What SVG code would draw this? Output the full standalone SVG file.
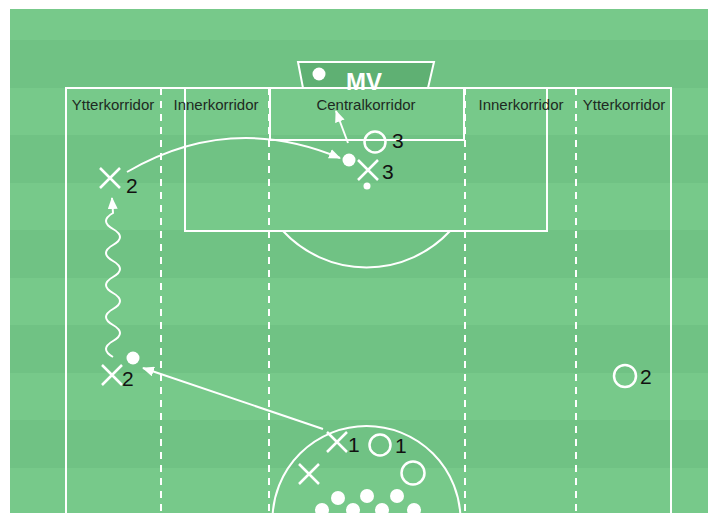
<svg xmlns="http://www.w3.org/2000/svg" width="718" height="513" viewBox="0 0 718 513">
<defs>
<style>
.ln{fill:none;stroke:#fff;stroke-width:2}
.dash{fill:none;stroke:#fff;stroke-width:2;stroke-dasharray:7 6}
.lbl{font-family:"Liberation Sans",Arial,sans-serif;font-size:15px;fill:#1e2a22;text-anchor:middle}
.num{font-family:"Liberation Sans",Arial,sans-serif;font-size:21px;fill:#111}
.x{fill:none;stroke:#fff;stroke-width:2.5}
.o{fill:none;stroke:#fff;stroke-width:2.5}
.ball{fill:#fff}
.arr{fill:none;stroke:#fff;stroke-width:2;marker-end:url(#ah)}
</style>
<marker id="ah" markerUnits="userSpaceOnUse" markerWidth="12" markerHeight="10" refX="11" refY="5" orient="auto">
<path d="M0,0 L12,5 L0,10 z" fill="#fff"/>
</marker>
</defs>
<rect width="718" height="513" fill="#fff"/>
<g id="field">
<rect x="10" y="9" width="698" height="504" fill="#77c98a"/>
<g fill="#70c284">
<rect x="10" y="40" width="698" height="48"/>
<rect x="10" y="135" width="698" height="48"/>
<rect x="10" y="230" width="698" height="48"/>
<rect x="10" y="325" width="698" height="48"/>
<rect x="10" y="420" width="698" height="48"/>
</g>
<polygon points="298,62 434,62 428,88 303,88" fill="#5fb073" stroke="#fff" stroke-width="2"/>
<text x="364" y="90" font-family="'Liberation Sans',Arial,sans-serif" font-weight="bold" font-size="24" fill="#fff" text-anchor="middle">MV</text>
<circle class="ball" cx="319" cy="74" r="6.5"/>
<path class="ln" d="M66,513 V88 H671 V513"/>
<rect class="ln" x="185" y="88" width="362" height="143"/>
<rect class="ln" x="270" y="88" width="194" height="52"/>
<path class="ln" d="M283,231 A114,114 0 0 0 450,231"/>
<circle class="ln" cx="366.5" cy="520" r="94"/>
<line class="dash" x1="161" y1="88" x2="161" y2="513"/>
<line class="dash" x1="269" y1="88" x2="269" y2="513"/>
<line class="dash" x1="465" y1="88" x2="465" y2="513"/>
<line class="dash" x1="576" y1="88" x2="576" y2="513"/>
</g>
<g id="labels">
<text class="lbl" x="113" y="110">Ytterkorridor</text>
<text class="lbl" x="216" y="110">Innerkorridor</text>
<text class="lbl" x="366" y="110">Centralkorridor</text>
<text class="lbl" x="521" y="110">Innerkorridor</text>
<text class="lbl" x="624" y="110">Ytterkorridor</text>
</g>
<g id="connectors">
<path class="arr" d="M127,172 Q230,112 340,158"/>
<path class="arr" d="M113,357 q-14,-8 0,-16 t0,-16 t0,-16 t0,-16 t0,-16 t0,-16 t0,-16 t0,-16 t0,-16 L112,198"/>
<path class="arr" d="M323,429 L143,368"/>
<path class="arr" d="M348,143 L336,111"/>
</g>
<g id="p-x2-top"><path class="x" d="M100,168 L120,188 M120,168 L100,188"/><text class="num" x="126" y="193">2</text></g>
<g id="p-x2-low"><path class="x" d="M102,365 L122,385 M122,365 L102,385"/><text class="num" x="122" y="386">2</text></g>
<circle id="ball-left" class="ball" cx="133" cy="358" r="6.5"/>
<g id="p-o3"><circle class="o" cx="375" cy="142" r="10.5"/><text class="num" x="392" y="148">3</text></g>
<g id="p-x3"><path class="x" d="M358,160 L378,180 M378,160 L358,180"/><text class="num" x="382" y="179">3</text></g>
<circle id="ball-center" class="ball" cx="349" cy="160" r="6.5"/>
<circle id="spot" class="ball" cx="367" cy="186" r="3.5"/>
<g id="p-o2"><circle class="o" cx="625" cy="376" r="11"/><text class="num" x="640" y="384">2</text></g>
<g id="p-x1"><path class="x" d="M327,432 L347,452 M347,432 L327,452"/><text class="num" x="348" y="452">1</text></g>
<g id="p-o1"><circle class="o" cx="380" cy="445" r="10.5"/><text class="num" x="395" y="453">1</text></g>
<g id="p-x"><path class="x" d="M299,464 L319,484 M319,464 L299,484"/></g>
<g id="p-o"><circle class="o" cx="413" cy="473" r="11.5"/></g>
<g id="balls">
<circle class="ball" cx="338" cy="498" r="7"/>
<circle class="ball" cx="367" cy="496" r="7"/>
<circle class="ball" cx="397" cy="496" r="7"/>
<circle class="ball" cx="322" cy="510" r="7"/>
<circle class="ball" cx="353" cy="510" r="7"/>
<circle class="ball" cx="382" cy="510" r="7"/>
<circle class="ball" cx="414" cy="510" r="7"/>
</g>
</svg>
